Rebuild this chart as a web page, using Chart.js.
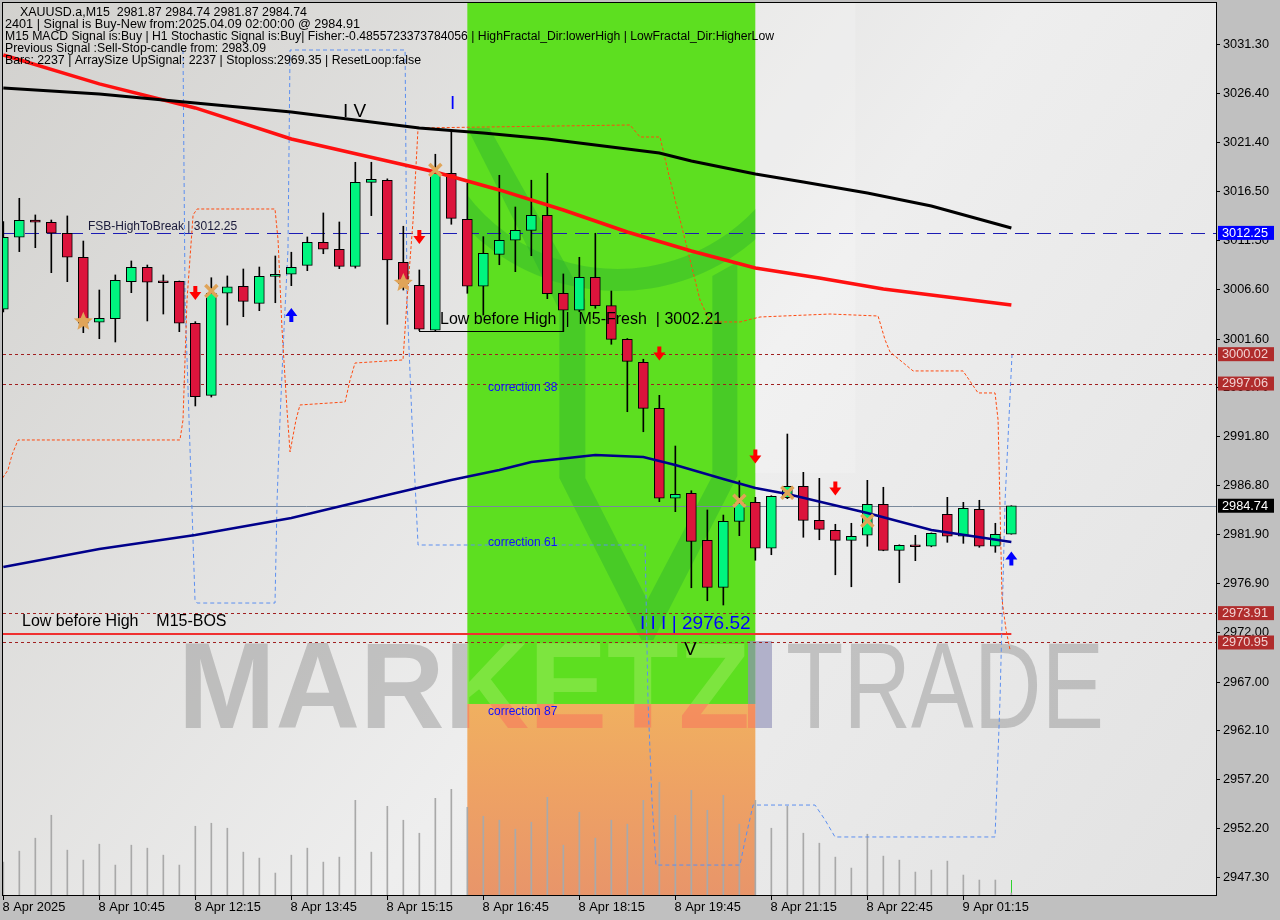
<!DOCTYPE html>
<html>
<head>
<meta charset="utf-8">
<title>XAUUSD.a M15</title>
<script src="https://cdn.jsdelivr.net/npm/chart.js@4.4.1/dist/chart.umd.min.js"></script>
<style>
  body { margin: 0; background: #c0c0c0; }
  canvas { display: block; }
</style>
</head>
<body>
<canvas id="chart" width="1280" height="920"></canvas>
<script>
// bougies M15, index 0 = 8 Apr 09:15
const opens = [3004.55,3011.81,3013.55,3013.32,3012.21,3009.79,3003.24,3003.60,3007.33,3008.78,3007.32,3007.37,3003.14,2995.87,3006.16,3006.87,3005.15,3007.87,3008.08,3008.98,3011.30,3010.60,3008.88,3017.35,3017.56,3009.29,3006.97,3002.43,3018.26,3013.62,3006.87,3010.09,3011.51,3012.51,3014.03,3006.16,3004.45,3007.77,3004.91,3001.52,2999.20,2994.56,2985.49,2985.99,2981.25,2976.51,2983.17,2985.08,2980.45,2985.55,2986.70,2983.27,2982.26,2981.25,2981.76,2984.88,2980.24,2980.70,2980.65,2983.87,2981.66,2984.38,2980.65,2981.87];
const highs = [3013.38,3015.74,3014.06,3013.55,3013.96,3011.43,3006.49,3008.01,3009.42,3009.01,3008.01,3007.40,3003.30,3007.73,3007.91,3008.61,3008.81,3009.92,3010.30,3011.84,3014.26,3013.35,3019.37,3019.37,3017.70,3012.92,3008.51,3020.18,3022.53,3017.25,3011.87,3018.06,3014.86,3017.56,3018.26,3008.11,3009.79,3012.21,3006.39,3001.60,2999.51,2995.87,2990.76,2986.25,2984.31,2983.80,2987.26,2985.59,2985.75,2991.97,2988.11,2987.50,2982.87,2982.97,2987.30,2986.60,2980.80,2981.76,2982.00,2985.59,2985.08,2985.29,2982.97,2984.74];
const lows = [3004.27,3010.36,3010.76,3008.24,3007.33,3002.19,3001.58,3001.25,3006.22,3003.37,3004.07,3002.29,2994.80,2995.70,3002.96,3003.80,3004.41,3005.21,3006.93,3008.44,3010.15,3008.64,3008.70,3013.99,3003.03,3006.49,3002.40,3002.30,3013.12,3006.16,3003.97,3009.04,3008.34,3009.95,3005.62,3002.29,3004.30,3004.65,3001.02,2994.22,2992.20,2985.15,2984.14,2976.47,2975.16,2974.73,2981.72,2979.24,2979.80,2985.45,2981.56,2981.31,2977.78,2976.57,2980.65,2980.20,2976.98,2979.20,2980.60,2981.05,2980.95,2980.55,2980.04,2981.87];
const closes = [3011.81,3013.52,3013.32,3012.21,3009.79,3003.14,3003.64,3007.47,3008.78,3007.27,3007.22,3003.14,2995.73,3006.16,3006.80,3005.35,3007.87,3008.08,3008.78,3011.30,3010.60,3008.88,3017.35,3017.66,3009.52,3007.10,3002.53,3018.26,3013.72,3006.87,3010.19,3011.51,3012.51,3014.03,3006.12,3004.45,3007.77,3004.91,3001.52,2999.30,2994.56,2985.49,2985.89,2981.15,2976.51,2983.17,2984.98,2980.45,2985.69,2986.70,2983.27,2982.36,2981.25,2981.66,2984.88,2980.24,2980.75,2980.60,2981.96,2981.66,2984.48,2980.65,2981.86,2984.74];
const volumes = [1320,1760,2280,3200,1800,1400,2040,1200,2000,1880,1600,1200,2760,2880,2680,1720,1480,880,1600,1880,1320,1520,3800,1720,3560,3000,2480,3880,4240,3520,3160,3000,2640,2920,3920,2000,3320,2280,3000,2840,3800,4520,3200,4200,3400,4000,2840,3800,2680,3560,2480,2080,1520,1080,2440,1560,1400,920,1000,1360,800,600,600,80];

// moyennes mobiles, points repères
const maSlowIdx = [0,6,12,18,21,26,30,34,38,41,43,47,50,54,58,63];
const maSlowVal = [3026.86,3026.26,3025.35,3024.44,3023.84,3022.83,3022.33,3021.72,3020.91,3020.31,3019.50,3018.19,3017.38,3016.27,3014.96,3012.75];
const maMidIdx = [0,6,12,18,24,27,31,35,39,43,47,51,55,59,63];
const maMidVal = [3030.19,3027.27,3024.85,3021.72,3019.50,3018.39,3016.58,3014.56,3012.34,3010.43,3008.71,3007.70,3006.59,3005.79,3004.98];
const maFastIdx = [0,6,12,18,24,28,31,33,37,40,42,45,47,49,54,58,63];
const maFastVal = [2978.56,2980.38,2981.79,2983.50,2985.82,2987.33,2988.34,2989.15,2989.85,2989.65,2988.85,2987.43,2986.53,2985.92,2984.01,2982.29,2981.08];

// lignes en escalier (pointillés)
const upperIdx = [-0.21,0.29,0.54,0.92,11.04,11.23,11.48,11.86,12.11,16.98,17.17,17.42,17.73,17.92,18.29,18.54,21.36,21.67,21.98,24.98,25.23,25.61,25.92,39.17,39.79,41.04,41.67,42.61,43.54,44.17,46.04,47.29,51.67,54.67,55.11,55.42,56.86,59.98,60.92,61.98,62.17,62.42,62.67,62.92];
const upperVal = [2987.13,2988.34,2989.86,2991.37,2991.37,2993.39,3005.49,3014.06,3014.66,3014.66,3011.54,3002.46,2994.39,2990.16,2993.39,2994.90,2995.20,2997.42,2999.13,2999.44,3005.49,3013.55,3022.83,3023.13,3021.92,3021.92,3017.59,3011.54,3005.49,3003.27,3003.27,3003.77,3004.07,3003.87,3001.45,3000.24,2998.33,2998.33,2996.11,2996.11,2993.39,2975.23,2972.21,2970.19];
const blueIdx = [11.23,11.36,11.67,11.98,12.11,16.98,17.11,17.29,17.54,17.79,17.92,25.11,25.23,25.54,25.92,40.11,40.29,40.54,40.79,46.04,46.36,46.86,50.73,51.36,51.98,61.98,62.29,62.61,63.04];
const blueVal = [3030.69,3005.49,2990.36,2975.23,2974.93,2974.93,2985.32,2993.39,3002.46,3010.53,3030.69,3030.69,3005.49,2993.39,2980.78,2980.78,2965.15,2955.07,2948.51,2948.51,2951.03,2954.56,2954.56,2953.05,2951.34,2951.34,2965.15,2985.32,2999.94];

// niveaux horizontaux
const fsbLevel = 3012.25;
const redLevels = [3000.02, 2997.06, 2973.91, 2970.95];
const bidLevel = 2984.74;
const bosLevel = 2971.81;
const zoneIdx = [29, 47];
const zoneSplit = 2964.75;

// signaux
const downIdx = [12, 26, 41, 47, 52];
const downVal = [3006.19, 3011.84, 3000.09, 2989.70, 2986.48];
const upIdx = [18, 63];
const upVal = [3003.97, 2979.42];
const starIdx = [5, 25];
const starVal = [3003.30, 3007.20];
const crossIdx = [13, 27, 46, 49, 54];
const crossVal = [3006.39, 3018.59, 2985.25, 2986.05, 2983.23];

// axes
const priceTicks = [3031.30,3026.40,3021.40,3016.50,3011.50,3006.60,3001.60,2996.70,2991.80,2986.80,2981.90,2976.90,2972.00,2967.00,2962.10,2957.20,2952.20,2947.30];
const timeIdx = [0,6,12,18,24,30,36,42,48,54,60];
const timeLabels = ["8 Apr 2025","8 Apr 10:45","8 Apr 12:15","8 Apr 13:45","8 Apr 15:15","8 Apr 16:45","8 Apr 18:15","8 Apr 19:45","8 Apr 21:15","8 Apr 22:45","9 Apr 01:15"];

const headerLines = [
  "XAUUSD.a,M15  2981.87 2984.74 2981.87 2984.74",
  "2401 | Signal is Buy-New from:2025.04.09 02:00:00 @ 2984.91",
  "M15 MACD Signal is:Buy | H1 Stochastic Signal is:Buy| Fisher:-0.4855723373784056 | HighFractal_Dir:lowerHigh | LowFractal_Dir:HigherLow",
  "Previous Signal :Sell-Stop-candle from: 2983.09",
  "Bars: 2237 | ArraySize UpSignal: 2237 | Stoploss:2969.35 | ResetLoop:false"
];

const GREEN = "#00f57f";
const RED = "#dc143c";

function fitText(ctx, txt, x, y, w) {
  let m = ctx.measureText(txt).width;
  ctx.save();
  ctx.translate(x, y);
  ctx.scale(w / m, 1);
  ctx.fillText(txt, 0, 0);
  ctx.restore();
}

function drawArrow(ctx, x, y, up, color) {
  let d = up ? -1 : 1;
  ctx.fillStyle = color;
  ctx.beginPath();
  ctx.moveTo(x - 2, y - 7 * d);
  ctx.lineTo(x + 2, y - 7 * d);
  ctx.lineTo(x + 2, y - 1 * d);
  ctx.lineTo(x + 6, y - 1 * d);
  ctx.lineTo(x, y + 7 * d);
  ctx.lineTo(x - 6, y - 1 * d);
  ctx.lineTo(x - 2, y - 1 * d);
  ctx.closePath();
  ctx.fill();
}

function drawStar(ctx, x, y, r) {
  ctx.fillStyle = "#e0a458";
  ctx.beginPath();
  for (let k = 0; k < 10; k++) {
    let a = -Math.PI / 2 + k * Math.PI / 5;
    let rr = k % 2 == 0 ? r : r * 0.45;
    ctx.lineTo(x + rr * Math.cos(a), y + rr * Math.sin(a));
  }
  ctx.closePath();
  ctx.fill();
}

function drawCross(ctx, x, y) {
  ctx.strokeStyle = "#e0a458";
  ctx.lineWidth = 3.5;
  ctx.beginPath();
  ctx.moveTo(x - 6, y - 6); ctx.lineTo(x + 6, y + 6);
  ctx.moveTo(x + 6, y - 6); ctx.lineTo(x - 6, y + 6);
  ctx.stroke();
}

function priceBox(ctx, yy, txt, bg, fg) {
  ctx.fillStyle = bg;
  ctx.fillRect(1218, yy - 7, 56, 14);
  ctx.fillStyle = fg;
  fitText(ctx, txt, 1222, yy + 0.5, 46);
}

function watermark(ctx, barColor) {
  ctx.font = "bold 122px 'Liberation Sans'";
  fitText(ctx, "MARKETZ", 178, 728, 572);
  ctx.font = "122px 'Liberation Sans'";
  fitText(ctx, "TRADE", 786, 728, 318);
  if (barColor) ctx.fillStyle = barColor;
  ctx.fillRect(748, 641, 24, 87);
}

const decor = {
  id: "decor",
  beforeDatasetsDraw(chart) {
    const ctx = chart.ctx;
    const a = chart.chartArea;
    const xs = chart.scales.x, ys = chart.scales.y;
    ctx.save();
    // fond du graphe
    let g = ctx.createLinearGradient(a.left, a.top, a.right, a.bottom);
    g.addColorStop(0, "#d2d1ce");
    g.addColorStop(0.55, "#eeeeee");
    g.addColorStop(1, "#e2e2e2");
    ctx.fillStyle = g;
    ctx.fillRect(a.left, a.top, a.right - a.left, a.bottom - a.top);

    // zone verte / orange
    let zx0 = xs.getPixelForValue(zoneIdx[0]);
    let zx1 = xs.getPixelForValue(zoneIdx[1]);
    let zy = ys.getPixelForValue(zoneSplit);
    ctx.fillStyle = "#5ddf20";
    ctx.fillRect(zx0, a.top, zx1 - zx0, zy - a.top);
    let og = ctx.createLinearGradient(0, zy, 0, a.bottom);
    og.addColorStop(0, "#f0b060");
    og.addColorStop(0.45, "#eea264");
    og.addColorStop(1, "#e8956a");
    ctx.fillStyle = og;
    ctx.fillRect(zx0, zy, zx1 - zx0, a.bottom - zy);

    // logo en filigrane dans la zone verte
    ctx.save();
    ctx.beginPath();
    ctx.rect(zx0, a.top, zx1 - zx0, zy - a.top);
    ctx.clip();
    ctx.fillStyle = "rgba(40,170,50,0.38)";
    ctx.beginPath();
    ctx.moveTo(zx0, 128); ctx.lineTo(zx0 + 22, 128);
    ctx.lineTo(zx0 + 118, 300); ctx.lineTo(zx0 + 118, 478);
    ctx.lineTo(zx0 + 180, 600); ctx.lineTo(zx0 + 245, 476);
    ctx.lineTo(zx0 + 245, 276); ctx.lineTo(zx0 + 270, 262);
    ctx.lineTo(zx0 + 270, 476); ctx.lineTo(zx0 + 186, 640);
    ctx.lineTo(zx0 + 174, 640); ctx.lineTo(zx0 + 92, 478);
    ctx.lineTo(zx0 + 92, 310);
    ctx.closePath();
    ctx.fill();
    ctx.strokeStyle = "rgba(40,170,50,0.38)";
    ctx.lineWidth = 22;
    ctx.beginPath();
    ctx.arc(zx0 + 150, 80, 200, 0.2 * Math.PI, 0.85 * Math.PI);
    ctx.stroke();
    ctx.restore();
    ctx.fillStyle = "rgba(255,255,255,0.18)";
    ctx.fillRect(zx1, a.top, 100, 470);

    // filigrane MARKETZ | TRADE : gris hors zone, plus clair dans la zone
    ctx.textBaseline = "alphabetic";
    ctx.save();
    ctx.beginPath();
    ctx.rect(a.left, a.top, zx0 - a.left, a.bottom - a.top);
    ctx.rect(zx1, a.top, a.right - zx1, a.bottom - a.top);
    ctx.clip();
    ctx.fillStyle = "rgba(135,135,135,0.42)";
    watermark(ctx, "rgba(120,120,170,0.5)");
    ctx.restore();
    ctx.save();
    ctx.beginPath();
    ctx.rect(zx0, a.top, zx1 - zx0, zy - a.top);
    ctx.clip();
    ctx.fillStyle = "rgba(255,255,190,0.2)";
    watermark(ctx, "rgba(150,130,210,0.6)");
    ctx.restore();
    ctx.save();
    ctx.beginPath();
    ctx.rect(zx0, zy, zx1 - zx0, a.bottom - zy);
    ctx.clip();
    ctx.fillStyle = "rgba(255,70,90,0.3)";
    watermark(ctx, null);
    ctx.restore();

    // volumes verts en bas
    ctx.strokeStyle = "#2fd02f";
    ctx.lineWidth = 1;
    for (let i = 0; i < opens.length; i++) {
      let x = Math.round(xs.getPixelForValue(i)) + 0.5;
      ctx.beginPath(); ctx.moveTo(x, a.bottom - 15); ctx.lineTo(x, a.bottom); ctx.stroke();
    }

    // niveaux horizontaux
    ctx.lineWidth = 1;
    ctx.strokeStyle = "#1c1cb4";
    ctx.setLineDash([14, 8]);
    let fy = Math.round(ys.getPixelForValue(fsbLevel)) + 0.5;
    ctx.beginPath(); ctx.moveTo(a.left, fy); ctx.lineTo(a.right, fy); ctx.stroke();
    ctx.strokeStyle = "#a02020";
    ctx.setLineDash([3, 3]);
    redLevels.forEach((p) => {
      let yy = Math.round(ys.getPixelForValue(p)) + 0.5;
      ctx.beginPath(); ctx.moveTo(a.left, yy); ctx.lineTo(a.right, yy); ctx.stroke();
    });
    ctx.setLineDash([]);
    ctx.strokeStyle = "#7a8a9c";
    let by = Math.round(ys.getPixelForValue(bidLevel)) + 0.5;
    ctx.beginPath(); ctx.moveTo(a.left, by); ctx.lineTo(a.right, by); ctx.stroke();
    ctx.strokeStyle = "#f03030";
    ctx.lineWidth = 2;
    let ry = ys.getPixelForValue(bosLevel);
    ctx.beginPath(); ctx.moveTo(a.left, ry); ctx.lineTo(xs.getPixelForValue(63), ry); ctx.stroke();
    ctx.restore();
  },
  afterDatasetsDraw(chart) {
    const ctx = chart.ctx;
    const xs = chart.scales.x, ys = chart.scales.y;
    ctx.save();
    // signaux
    downIdx.forEach((v, k) => drawArrow(ctx, xs.getPixelForValue(v), ys.getPixelForValue(downVal[k]), false, "#ff0000"));
    upIdx.forEach((v, k) => drawArrow(ctx, xs.getPixelForValue(v), ys.getPixelForValue(upVal[k]), true, "#0000ff"));
    starIdx.forEach((v, k) => drawStar(ctx, xs.getPixelForValue(v), ys.getPixelForValue(starVal[k]), 10));
    crossIdx.forEach((v, k) => drawCross(ctx, xs.getPixelForValue(v), ys.getPixelForValue(crossVal[k])));

    // textes
    ctx.textBaseline = "middle";
    ctx.fillStyle = "#1a1a3a";
    ctx.font = "12px 'Liberation Sans'";
    ctx.fillText("FSB-HighToBreak | 3012.25", 88, 227);
    ctx.fillStyle = "#000";
    ctx.font = "16px 'Liberation Sans'";
    ctx.fillText("Low before High  |  M5-Fresh  | 3002.21", 440, 320);
    ctx.fillText("Low before High    M15-BOS", 22, 622);
    ctx.strokeStyle = "#000";
    ctx.lineWidth = 1;
    ctx.beginPath(); ctx.moveTo(419, 331.5); ctx.lineTo(563, 331.5); ctx.stroke();
    ctx.font = "19px 'Liberation Sans'";
    ctx.fillText("I V", 343, 112);
    ctx.fillText("V", 684, 650);
    ctx.fillStyle = "#0000ff";
    ctx.fillText("I", 450, 104);
    ctx.fillText("I I I | 2976.52", 640, 624);
    ctx.font = "12px 'Liberation Sans'";
    ctx.fillStyle = "#1010ff";
    ctx.fillText("correction 38", 488, 388);
    ctx.fillText("correction 61", 488, 543);
    ctx.fillText("correction 87", 488, 712);

    // en-tête
    ctx.fillStyle = "#000";
    ctx.font = "12.5px 'Liberation Sans'";
    const hx = [20, 5, 5, 5, 5];
    const hw = [287, 355, 769, 261, 416];
    headerLines.forEach((t, k) => fitText(ctx, t, hx[k], 13 + k * 12, hw[k]));

    // cadre
    ctx.strokeStyle = "#000";
    ctx.lineWidth = 1;
    ctx.strokeRect(2.5, 2.5, 1214, 893);

    // axe des prix
    ctx.font = "12px 'Liberation Sans'";
    ctx.fillStyle = "#000";
    priceTicks.forEach((p) => {
      let yy = Math.round(ys.getPixelForValue(p)) + 0.5;
      ctx.beginPath(); ctx.moveTo(1216, yy); ctx.lineTo(1220, yy); ctx.stroke();
      fitText(ctx, p.toFixed(2), 1223, yy + 0.5, 46);
    });
    priceBox(ctx, ys.getPixelForValue(fsbLevel), fsbLevel.toFixed(2), "#0000ff", "#ffffff");
    redLevels.forEach((p) => priceBox(ctx, ys.getPixelForValue(p), p.toFixed(2), "#b02c2c", "#f2d2d2"));
    priceBox(ctx, ys.getPixelForValue(bidLevel), bidLevel.toFixed(2), "#000000", "#ffffff");

    // axe du temps
    ctx.fillStyle = "#000";
    timeIdx.forEach((v, k) => {
      let x = Math.round(xs.getPixelForValue(v)) + 0.5;
      ctx.beginPath(); ctx.moveTo(x, 896); ctx.lineTo(x, 900); ctx.stroke();
      let w = ctx.measureText(timeLabels[k]).width * 1.07;
      fitText(ctx, timeLabels[k], x - 1, 908, w);
    });
    ctx.restore();
  }
};

const pt = (idx, val) => idx.map((v, k) => ({ x: v, y: val[k] }));
const candleColors = closes.map((c, i) => (c >= opens[i] ? GREEN : RED));

new Chart(document.getElementById("chart"), {
  type: "bar",
  data: {
    datasets: [
      {
        label: "volume",
        data: volumes.map((v, i) => ({ x: i, y: v })),
        yAxisID: "y2",
        backgroundColor: "#a9a9a9",
        barThickness: 1,
        grouped: false,
        order: 10
      },
      {
        type: "line",
        label: "upper",
        data: pt(upperIdx, upperVal),
        borderColor: "#ff4a10",
        borderWidth: 1,
        borderDash: [3, 2],
        pointRadius: 0,
        order: 8
      },
      {
        type: "line",
        label: "blue",
        data: pt(blueIdx, blueVal),
        borderColor: "#5c8ff0",
        borderWidth: 1,
        borderDash: [4, 3],
        pointRadius: 0,
        order: 8
      },
      {
        label: "wick",
        data: highs.map((h, i) => ({ x: i, y: [lows[i], h] })),
        backgroundColor: "#000",
        barThickness: 1,
        grouped: false,
        order: 5
      },
      {
        label: "body",
        data: opens.map((o, i) => ({ x: i, y: [o, closes[i]] })),
        backgroundColor: candleColors,
        borderColor: "#000",
        borderWidth: 1,
        borderSkipped: false,
        barThickness: 10,
        grouped: false,
        minBarLength: 2,
        order: 4
      },
      {
        type: "line",
        label: "ma slow",
        data: pt(maSlowIdx, maSlowVal),
        borderColor: "#000",
        borderWidth: 3,
        pointRadius: 0,
        order: 1
      },
      {
        type: "line",
        label: "ma mid",
        data: pt(maMidIdx, maMidVal),
        borderColor: "#ff1010",
        borderWidth: 3.5,
        pointRadius: 0,
        order: 1
      },
      {
        type: "line",
        label: "ma fast",
        data: pt(maFastIdx, maFastVal),
        borderColor: "#00008b",
        borderWidth: 2.5,
        pointRadius: 0,
        order: 1
      }
    ]
  },
  options: {
    responsive: false,
    animation: false,
    events: [],
    layout: { padding: { left: 3, top: 3, right: 64, bottom: 25 } },
    plugins: { legend: { display: false }, tooltip: { enabled: false } },
    scales: {
      x: { type: "linear", min: -0.02, max: 75.79, offset: false, display: false },
      y: { min: 2945.49, max: 3035.43, display: false },
      y2: { min: 0, max: 35800, display: false }
    }
  },
  plugins: [decor]
});
</script>
</body>
</html>
